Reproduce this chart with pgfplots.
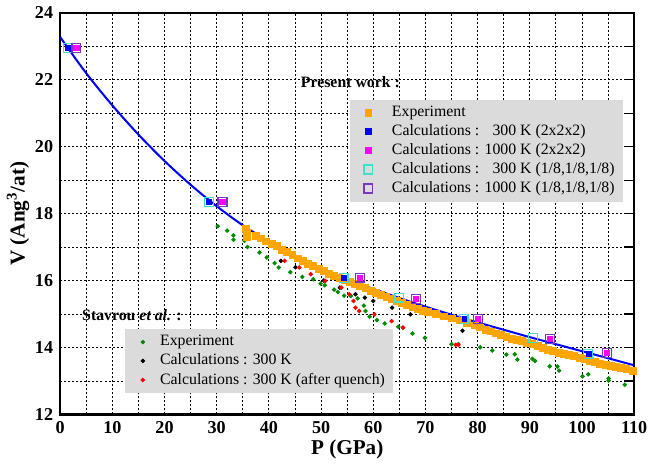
\documentclass[border=0pt]{standalone}
\usepackage{fontspec}
\setmainfont{Liberation Serif}
\usepackage{pgfplots}
\pgfplotsset{compat=1.18}
\definecolor{cOrange}{RGB}{255,165,0}
\definecolor{cBlue}{RGB}{0,0,255}
\definecolor{cMag}{RGB}{255,0,255}
\definecolor{cCyan}{RGB}{64,224,208}
\definecolor{cPurp}{RGB}{118,56,190}
\definecolor{cGreen}{RGB}{0,140,0}
\definecolor{cRed}{RGB}{255,0,0}
\definecolor{cLeg}{RGB}{219,219,219}
\pgfplotsset{
  common/.style={
    scale only axis, width=285pt, height=199.5pt,
    xmin=0, xmax=110, ymin=12, ymax=24,
  },
  legstyle/.style={
    legend cell align=left,
    legend style={fill=cLeg, draw=none, font=\fontsize{7.85}{9}\selectfont,
      inner xsep=3pt, inner ysep=2pt, row sep=0.5pt, nodes={inner sep=1pt}},
  }
}
\begin{document}
\begin{tikzpicture}
\begin{axis}[common, legstyle,
  xtick distance=10, ytick distance=2,
  minor x tick num=1, minor y tick num=1,
  xmajorgrids, ymajorgrids, xminorgrids, yminorgrids,
  major grid style={draw=black, line width=0.5pt, dash pattern=on 1pt off 1pt},
  minor grid style={draw=black, line width=0.5pt, dash pattern=on 1pt off 1pt},
  axis line style={line width=1.1pt},
  major tick length=0pt, minor tick length=0pt,
  /pgf/number format/assume math mode=true,
  tick label style={font=\fontsize{9}{10}\selectfont\bfseries},
  xlabel={\textbf{P (GPa)}}, ylabel={\textbf{V (Ang\textsuperscript{3}/at)}},
  label style={font=\fontsize{10.5}{12}\selectfont},
  xlabel style={yshift=4pt}, ylabel style={yshift=-4pt},
  legend style={at={(rel axis cs:0.112,0.213)}, anchor=north west},
  legend image code/.code={\path[draw=none,fill=none] (0pt,0pt) -- (13.5pt,0pt); \draw[#1] plot[only marks] coordinates {(5.9pt,0pt)};},
]
\addplot[only marks, mark=*, mark size=0.9pt, color=cGreen] coordinates {
(30.2,17.62) (32.0,17.49) (33.2,17.35) (33.2,17.22) (35.3,17.19) (35.9,17.00)
(38.2,16.84) (39.6,16.69) (41.1,16.52) (41.9,16.39) (44.1,16.25) (46.4,16.11)
(48.5,16.04) (49.9,15.91) (50.7,15.86) (52.5,15.73) (53.2,15.66) (54.4,15.55)
(55.7,15.54) (57.0,15.47) (58.2,15.25) (58.5,15.09) (59.3,14.92) (60.7,14.82)
(62.2,14.72) (64.8,14.62) (65.7,14.59) (67.5,14.42) (69.9,14.29) (75.0,14.10)
(76.3,14.10) (80.5,14.01) (82.8,13.91) (85.5,13.79) (87.1,13.80) (87.6,13.64)
(90.5,13.66) (91.0,13.60) (93.8,13.44) (95.3,13.43) (95.6,13.31) (100.1,13.14)
(101.2,13.20) (105.1,13.08) (105.1,13.01) (108.2,12.89)
};
\addlegendentry{Experiment}
\addplot[only marks, mark=*, mark size=0.9pt, color=black] coordinates {
(42.3,16.59) (45.1,16.40) (50.5,16.00) (53.6,15.79) (56.6,15.59) (58.4,15.49)
(60.0,15.39) (63.6,15.19) (67.1,14.99) (77.1,14.50)
};
\addlegendentry{Calculations : 300 K}
\addplot[only marks, mark=*, mark size=0.9pt, color=cRed] coordinates {
(43.0,16.59) (45.8,16.39) (48.0,16.19) (50.8,15.99) (53.9,15.79) (55.4,15.59)
(56.2,15.39) (56.6,15.19) (57.3,15.09) (60.2,14.99) (63.5,14.79) (65.7,14.60)
(75.8,14.08) (76.3,14.08)
};
\addlegendentry{Calculations : 300 K (after quench)}
\node[anchor=west, font=\fontsize{7.85}{9}\selectfont\bfseries] at (rel axis cs:0.026,0.248) {Stavrou \textit{et al.} :};
\node[anchor=west, font=\fontsize{7.85}{9}\selectfont\bfseries] at (rel axis cs:0.407,0.827) {Present work :};
\end{axis}
\begin{axis}[common, legstyle,
  axis line style={draw=none},
  xtick=\empty, ytick distance=1, ytick pos=right, yticklabels={},
  tick align=inside, major tick length=5pt,
  ytick style={black, line width=0.6pt},
  legend style={at={(rel axis cs:0.505,0.784)}, anchor=north west},
  legend image code/.code={\path[draw=none,fill=none] (0pt,0pt) -- (16.6pt,0pt); \draw[#1] plot[only marks] coordinates {(5.9pt,0pt)};},
]
\addplot[only marks, mark=square*, mark size=1.7pt, color=cOrange] coordinates {
(35.6,17.55) (35.7,17.42) (35.8,17.30) (37.5,17.33) (38.5,17.26) (39.5,17.17)
(40.5,17.10) (41.5,17.03) (42.5,16.92) (43.5,16.85) (44.5,16.77) (45.5,16.66)
(46.5,16.58) (47.5,16.50) (48.5,16.43) (49.5,16.36) (50.5,16.28) (51.5,16.21)
(52.5,16.15) (53.5,16.08) (54.5,16.02) (55.5,15.95) (56.5,15.89) (57.5,15.83)
(58.5,15.77) (59.5,15.70) (60.5,15.64) (61.5,15.57) (62.5,15.51) (63.5,15.45)
(64.5,15.40) (65.5,15.34) (66.5,15.28) (67.5,15.22) (68.5,15.15) (69.5,15.10)
(70.5,15.06) (72.0,15.00) (73.5,14.93) (75.0,14.87) (76.5,14.81) (78.0,14.73)
(79.5,14.66) (80.5,14.60) (81.5,14.53) (82.5,14.48) (83.5,14.42) (84.5,14.37)
(85.5,14.31) (86.5,14.27) (87.5,14.23) (88.5,14.19) (89.5,14.14) (90.5,14.10)
(91.5,14.05) (92.5,13.99) (93.5,13.94) (94.5,13.89) (95.5,13.85) (96.5,13.82)
(97.5,13.79) (98.5,13.75) (99.5,13.70) (100.5,13.65) (101.5,13.60) (102.5,13.56)
(103.5,13.52) (104.5,13.48) (105.5,13.45) (106.5,13.42) (107.5,13.39) (108.5,13.36)
(109.8,13.30)
};
\addlegendentry{Experiment}
\addplot[forget plot, color=cBlue, line width=1pt, smooth] coordinates {
(0,23.27) (5,22.19) (10,21.23) (15,20.36) (20,19.57) (25,18.86) (30,18.22)
(35,17.65) (40,17.17) (45,16.74) (50,16.36) (55,16.03) (60,15.75) (65,15.48)
(70,15.22) (75,14.98) (80,14.75) (85,14.53) (90,14.31) (95,14.10) (100,13.89)
(105,13.68) (110,13.47)
};
\addplot[only marks, mark=square*, mark size=1.3pt, color=cBlue] coordinates {
(1.5,22.94) (28.5,18.35) (54.3,16.08) (77.6,14.85) (101.4,13.81)
};
\addlegendentry{Calculations : \hphantom{0}300 K (2x2x2)}
\addplot[only marks, mark=square*, mark size=1.3pt, color=cMag] coordinates {
(3.1,22.94) (31.1,18.35) (57.5,16.09) (68.2,15.45) (80.1,14.85) (93.9,14.25) (104.8,13.83)
};
\addlegendentry{Calculations : 1000 K (2x2x2)}
\addplot[only marks, mark=square, mark size=2.2pt, mark options={line width=0.6pt}, color=cCyan] coordinates {
(1.5,22.94) (28.5,18.35) (54.3,16.08) (64.9,15.49) (77.3,14.85) (90.6,14.29) (101.2,13.80)
};
\addlegendentry{Calculations : \hphantom{0}300 K (1/8,1/8,1/8)}
\addplot[only marks, mark=square, mark size=2.2pt, mark options={line width=0.6pt}, color=cPurp] coordinates {
(3.1,22.94) (31.1,18.35) (57.5,16.09) (68.2,15.45) (80.1,14.85) (93.9,14.25) (104.8,13.83)
};
\addlegendentry{Calculations : 1000 K (1/8,1/8,1/8)}
\end{axis}
\end{tikzpicture}
\end{document}
